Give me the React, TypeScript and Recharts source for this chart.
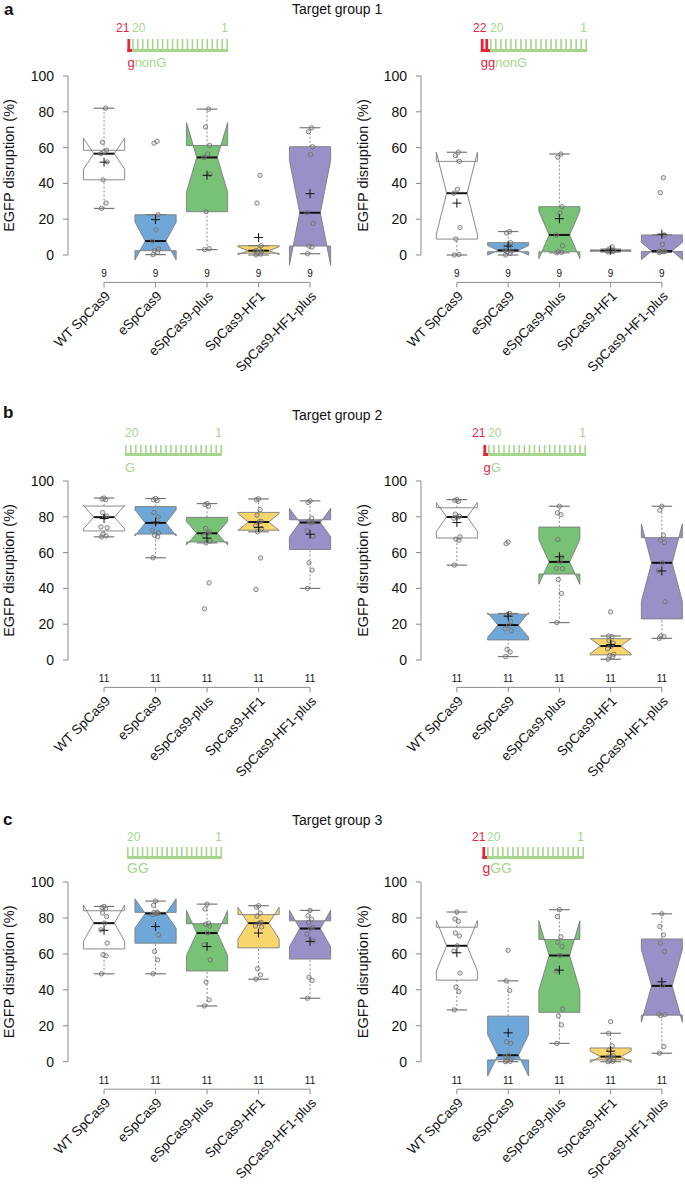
import React from 'react'
import { ScatterChart, Scatter, XAxis, YAxis } from 'recharts'

const FONT = '"Liberation Sans", Arial, Helvetica, sans-serif'
const GREY = '#8a8a8a'
const RED = '#e3263d'
const GREEN = '#a5d68c'

const CATEGORIES = ['WT SpCas9', 'eSpCas9', 'eSpCas9-plus', 'SpCas9-HF1', 'SpCas9-HF1-plus']
const BOX_FILLS = ['#ffffff', '#6fa8d8', '#77c274', '#f8d66c', '#9990c8']
const Y_TICKS = [0, 20, 40, 60, 80, 100]
const X_TICKS = [1, 2, 3, 4, 5]
const Y_MIN = -15.3
const COUNT_Y = -10.2
const JITTER = [-0.05, 0.04, -0.02, 0.06, -0.06, 0.01, 0.05, -0.03, 0.03, -0.04, 0.0]

// EGFP disruption (%) per target, one list per nuclease (order of CATEGORIES)
const G1_GNONG = [
  [26, 29, 42, 52, 56.6, 57.7, 58.5, 63, 82],
  [0.2, 1.5, 2.4, 3.3, 7.8, 14, 22.5, 62.5, 63.5],
  [3, 3.5, 24.2, 45, 54.5, 56.4, 61.2, 71.5, 81.5],
  [0, 0.5, 1, 2, 2.4, 3, 5.2, 29, 44.5],
  [0.7, 4.5, 5, 17.7, 23.6, 56.2, 60.5, 68.9, 71.1],
]
const G1_GGNONG = [
  [0, 0.3, 8.9, 15.3, 34.5, 36.7, 52.3, 55.5, 57.4],
  [0, 0.9, 1.8, 2.2, 2.6, 5.2, 6.9, 12.3, 13.1],
  [1.2, 1.5, 1.8, 5.2, 11.2, 23.6, 27, 54.6, 56.4],
  [1.7, 2.0, 2.2, 2.3, 2.4, 2.6, 2.8, 3.3, 4.6],
  [1.4, 1.8, 2.0, 2.1, 2.2, 6.0, 11.2, 34.8, 43.2],
]
const G2_G = [
  [68.8, 69.3, 70.3, 73.9, 74.3, 79.8, 80.5, 82.4, 89.6, 90.0, 90.5],
  [57.1, 68.8, 69.7, 71, 72.5, 76.6, 79.9, 82.4, 89, 89.5, 90.2],
  [28.6, 43.1, 65.4, 66.5, 69.5, 70.8, 71.5, 73.5, 85.9, 86.8, 87.4],
  [39.4, 57.0, 71.6, 73.4, 75, 77.1, 77.5, 80.9, 84, 89.5, 90],
  [40, 50.2, 54.3, 69.2, 72.1, 76.8, 77.0, 77.5, 79.2, 88, 88.9],
]
const G2_GG = [
  [53, 66.9, 67.5, 68.8, 79.2, 79.9, 80.3, 81.5, 88.6, 89.2, 89.6],
  [1.9, 4.5, 6.0, 16.4, 17.5, 19.5, 21.4, 25.2, 26.0, 65, 65.9],
  [20.9, 37.2, 45, 51, 51.2, 54.8, 57.5, 67.3, 81.2, 82.2, 85.9],
  [0.4, 1.9, 2.5, 3.2, 6.2, 7.8, 9.5, 10.8, 13, 13.4, 26.9],
  [12.1, 13, 13.4, 32.5, 49.8, 54.3, 65.6, 67, 69.7, 83.7, 85.9],
]
const G3_GG = [
  [48.9, 58.9, 59.5, 66, 73.4, 77.1, 80.8, 82.8, 85.2, 85.8, 86.4],
  [48.9, 56.7, 61.3, 70.6, 82, 82.5, 82.5, 83, 83.2, 87, 89.4],
  [31, 34.4, 44.3, 56.7, 65, 71.6, 75.5, 76.5, 77.1, 85, 87.7],
  [45.9, 48.3, 51.7, 75, 75.5, 77.1, 77.5, 81, 82.7, 86, 86.8],
  [35.3, 45.2, 47, 67.2, 71, 74.1, 74.7, 77.5, 79.3, 81.2, 84.2],
]
const G3_GGG = [
  [28.8, 39, 41.5, 49.3, 61.5, 64.5, 70, 71.6, 78.1, 79.4, 83.3],
  [0, 0.2, 0.5, 1.5, 3, 3.6, 10.2, 11.1, 39.6, 45, 62],
  [10.2, 20.5, 25.5, 29.4, 50.5, 59.1, 64.1, 66.5, 69.5, 80.8, 84.6],
  [0, 0.3, 0.8, 1.2, 2.5, 2.8, 3.5, 6.5, 8.8, 15.8, 22.3],
  [4.7, 8.4, 25.6, 26.2, 26.5, 42.2, 61.3, 66, 70.6, 75.2, 82.3],
]

type Stats = { q1: number; med: number; q3: number; lo: number; hi: number; nLo: number; nHi: number; mean: number }

// Tukey hinges, 1.5 IQR whiskers and notches as in R's boxplot
function boxStats(vals: number[]): Stats {
  const v = [...vals].sort((a, b) => a - b)
  const n = v.length
  const at = (d: number) => 0.5 * (v[Math.floor(d) - 1] + v[Math.ceil(d) - 1])
  const n4 = Math.floor((n + 3) / 2) / 2
  const q1 = at(n4)
  const med = at((n + 1) / 2)
  const q3 = at(n + 1 - n4)
  const iqr = q3 - q1
  const lo = v.find((x) => x >= q1 - 1.5 * iqr) as number
  const hi = [...v].reverse().find((x) => x <= q3 + 1.5 * iqr) as number
  const notch = (1.58 * iqr) / Math.sqrt(n)
  const mean = v.reduce((s, x) => s + x, 0) / n
  return { q1, med, q3, lo, hi, nLo: med - notch, nHi: med + notch, mean }
}

function boxVertices(i: number, s: Stats) {
  const c = i + 1
  const w = 0.4
  const h = 0.2
  return [
    { x: c - w, y: s.q1 }, { x: c - w, y: s.nLo }, { x: c - h, y: s.med }, { x: c - w, y: s.nHi }, { x: c - w, y: s.q3 },
    { x: c + w, y: s.q3 }, { x: c + w, y: s.nHi }, { x: c + h, y: s.med }, { x: c + w, y: s.nLo }, { x: c + w, y: s.q1 },
    { x: c, y: s.lo }, { x: c, y: s.q1 }, { x: c, y: s.q3 }, { x: c, y: s.hi },
    { x: c - h, y: s.lo }, { x: c + h, y: s.lo }, { x: c - h, y: s.hi }, { x: c + h, y: s.hi },
  ]
}

const Hidden = () => <g />

const seg = (a: any, b: any, props: any) => <line x1={a.x} y1={a.y} x2={b.x} y2={b.y} {...props} />

const renderBox = (fill: string) => (props: any) => {
  const p = props.points
  if (!p || p.length < 18) return <g />
  const poly = p.slice(0, 10).map((q: any) => `${q.x},${q.y}`).join(' ')
  const dash = { stroke: GREY, strokeWidth: 1, strokeDasharray: '2 2' }
  const cap = { stroke: '#777', strokeWidth: 1.2 }
  return (
    <g>
      <polygon points={poly} fill={fill} stroke="#7d7d7d" strokeWidth={0.9} />
      {seg(p[2], p[7], { stroke: '#111', strokeWidth: 2 })}
      {seg(p[10], p[11], dash)}
      {seg(p[12], p[13], dash)}
      {seg(p[14], p[15], cap)}
      {seg(p[16], p[17], cap)}
    </g>
  )
}

const renderAxes = (props: any) => {
  const p = props.points
  if (!p || p.length < 4) return <g />
  return (
    <g>
      {seg(p[0], p[1], { stroke: GREY, strokeWidth: 1 })}
      {seg(p[2], p[3], { stroke: GREY, strokeWidth: 1 })}
    </g>
  )
}

const Dot = (p: any) => (
  <circle cx={p.cx} cy={p.cy} r={2.2} fill="rgba(150,150,150,0.25)" stroke="#6e6e6e" strokeWidth={0.8} />
)

const Plus = (p: any) => (
  <path d={`M${p.cx - 4.5},${p.cy}H${p.cx + 4.5}M${p.cx},${p.cy - 4.5}V${p.cy + 4.5}`} stroke="#111" strokeWidth={1} />
)

const Count = (p: any) => (
  <text x={p.cx} y={p.cy} dy="0.35em" textAnchor="middle" fontSize={10} fontFamily={FONT} fill="#111">
    {p.payload?.n}
  </text>
)

const renderXTick = (p: any) => {
  const label = CATEGORIES[Math.round(p.payload.value) - 1]
  const x = p.x + 7
  const y = p.y + 9.5
  return (
    <text x={x} y={y} transform={`rotate(-45 ${x} ${y})`} textAnchor="end" fontSize={13.5} fontFamily={FONT} fill="#111">
      {label}
    </text>
  )
}

type PanelProps = { groups: number[][]; plotLeft: number; spacing: number; y100: number; y0: number }

function Panel({ groups, plotLeft, spacing, y100, y0 }: PanelProps) {
  const unit = (y0 - y100) / 100
  const plotHeight = (100 - Y_MIN) * unit
  const plotWidth = 5.4 * spacing
  const YW = 60
  const MT = 10
  const XH = 115
  const stats = groups.map(boxStats)
  const points = groups.flatMap((vals, i) => vals.map((v, j) => ({ x: i + 1 + JITTER[j % JITTER.length], y: v })))
  const means = stats.map((s, i) => ({ x: i + 1, y: s.mean }))
  const counts = groups.map((vals, i) => ({ x: i + 1, y: COUNT_Y, n: vals.length }))
  const axes = [{ x: 0.3, y: 0 }, { x: 0.3, y: 100 }, { x: 1, y: Y_MIN }, { x: 5, y: Y_MIN }]

  return (
    <div style={{ position: 'absolute', left: plotLeft - YW, top: y100 - MT }}>
      <ScatterChart width={YW + plotWidth + 5} height={MT + plotHeight + XH} margin={{ top: MT, right: 5, bottom: 0, left: 0 }}>
        <XAxis type="number" dataKey="x" domain={[0.3, 5.7]} ticks={X_TICKS} interval={0} axisLine={false}
          tickLine={{ stroke: GREY }} tickSize={5} tickMargin={0} height={XH} tick={renderXTick} />
        <YAxis type="number" dataKey="y" domain={[Y_MIN, 100]} ticks={Y_TICKS} interval={0} axisLine={false}
          tickLine={{ stroke: GREY }} tickSize={5} tickMargin={9} width={YW}
          tick={{ fontSize: 14, fill: '#111', fontFamily: FONT }} />
        {stats.map((s, i) => (
          <Scatter key={i} data={boxVertices(i, s)} shape={Hidden} line={renderBox(BOX_FILLS[i])} isAnimationActive={false} />
        ))}
        <Scatter data={points} shape={Dot} isAnimationActive={false} />
        <Scatter data={means} shape={Plus} isAnimationActive={false} />
        <Scatter data={counts} shape={Count} isAnimationActive={false} />
        <Scatter data={axes} shape={Hidden} line={renderAxes} isAnimationActive={false} />
      </ScatterChart>
    </div>
  )
}

function Comb({ gx, ge, top, bottom, red }: { gx: number; ge: number; top: number; bottom: number; red: number }) {
  const pitch = (ge - gx - 1.6) / 19
  const teeth = Array.from({ length: 20 }, (_, k) => gx + k * pitch)
  const rs = gx - 4.6 * red
  return (
    <g>
      {teeth.map((tx, k) => <rect key={k} x={tx} y={top} width={1.6} height={bottom - top} fill={GREEN} />)}
      <rect x={gx} y={bottom - 3} width={ge - gx} height={3} fill={GREEN} />
      {red > 0 && <rect x={rs} y={bottom - 3} width={gx - rs} height={3} fill={RED} />}
      {Array.from({ length: red }, (_, k) => (
        <rect key={k} x={rs + k * 4.6} y={top} width={2.8} height={bottom - top} fill={RED} />
      ))}
    </g>
  )
}

function SeqLabel({ x, y, redNum, gx, ge, top, bottom, red, lower, upper, labelY, labelSize }: any) {
  return (
    <g fontFamily={FONT}>
      {redNum && <text x={x} y={y} fontSize={12} fill={RED}>{redNum}</text>}
      <text x={gx} y={y} fontSize={12} fill={GREEN}>20</text>
      <text x={ge} y={y} fontSize={12} fill={GREEN} textAnchor="end">1</text>
      <Comb gx={gx} ge={ge} top={top} bottom={bottom} red={red} />
      <text x={red > 0 ? gx - 4.6 * red : gx} y={labelY} fontSize={labelSize}>
        {lower && <tspan fill={RED}>{lower}</tspan>}
        <tspan fill={GREEN}>{upper}</tspan>
      </text>
    </g>
  )
}

const YLabel = ({ x, y }: { x: number; y: number }) => (
  <text x={x} y={y} transform={`rotate(-90 ${x} ${y})`} textAnchor="middle" fontSize={14.5} fontFamily={FONT} fill="#111">
    EGFP disruption (%)
  </text>
)

export default function App() {
  return (
    <div style={{ position: 'fixed', left: 0, top: 0, width: 685, height: 1185, overflow: 'hidden', background: '#fff' }}>
      <Panel groups={G1_GNONG} plotLeft={68} spacing={51.5} y100={76} y0={255} />
      <Panel groups={G1_GGNONG} plotLeft={421} spacing={51.25} y100={76} y0={255} />
      <Panel groups={G2_G} plotLeft={68} spacing={51.5} y100={481} y0={660} />
      <Panel groups={G2_GG} plotLeft={421} spacing={51.25} y100={481} y0={660} />
      <Panel groups={G3_GG} plotLeft={68} spacing={51.5} y100={882} y0={1061.7} />
      <Panel groups={G3_GGG} plotLeft={421} spacing={51.25} y100={882} y0={1061.7} />
      <svg width={685} height={1185} style={{ position: 'absolute', left: 0, top: 0, pointerEvents: 'none' }}>
        <g fontFamily={FONT} fill="#111">
          <text x={4} y={15} fontSize={17} fontWeight="bold">a</text>
          <text x={3} y={418} fontSize={17} fontWeight="bold">b</text>
          <text x={3} y={825} fontSize={17} fontWeight="bold">c</text>
          <text x={292} y={14} fontSize={14}>Target group 1</text>
          <text x={292} y={419.5} fontSize={14}>Target group 2</text>
          <text x={292} y={825} fontSize={14}>Target group 3</text>
        </g>
        <SeqLabel x={116} y={32} redNum="21" gx={132} ge={228} top={39} bottom={52} red={1} lower="g" upper="nonG" labelY={66.5} labelSize={13} />
        <SeqLabel x={473} y={32} redNum="22" gx={490} ge={587} top={39} bottom={52} red={2} lower="gg" upper="nonG" labelY={66.5} labelSize={13} />
        <SeqLabel gx={125} ge={222} y={437} top={445} bottom={456} red={0} upper="G" labelY={472} labelSize={13} />
        <SeqLabel x={472} y={437} redNum="21" gx={488} ge={586} top={445} bottom={456} red={1} lower="g" upper="G" labelY={472} labelSize={13} />
        <SeqLabel gx={127} ge={222} y={841} top={847} bottom={859} red={0} upper="GG" labelY={873} labelSize={14} />
        <SeqLabel x={472} y={841} redNum="21" gx={487} ge={584} top={847} bottom={859} red={1} lower="g" upper="GG" labelY={873} labelSize={14} />
        <YLabel x={14} y={165.5} />
        <YLabel x={368} y={165.5} />
        <YLabel x={14} y={570.5} />
        <YLabel x={368} y={570.5} />
        <YLabel x={14} y={971.8} />
        <YLabel x={368} y={971.8} />
      </svg>
    </div>
  )
}
